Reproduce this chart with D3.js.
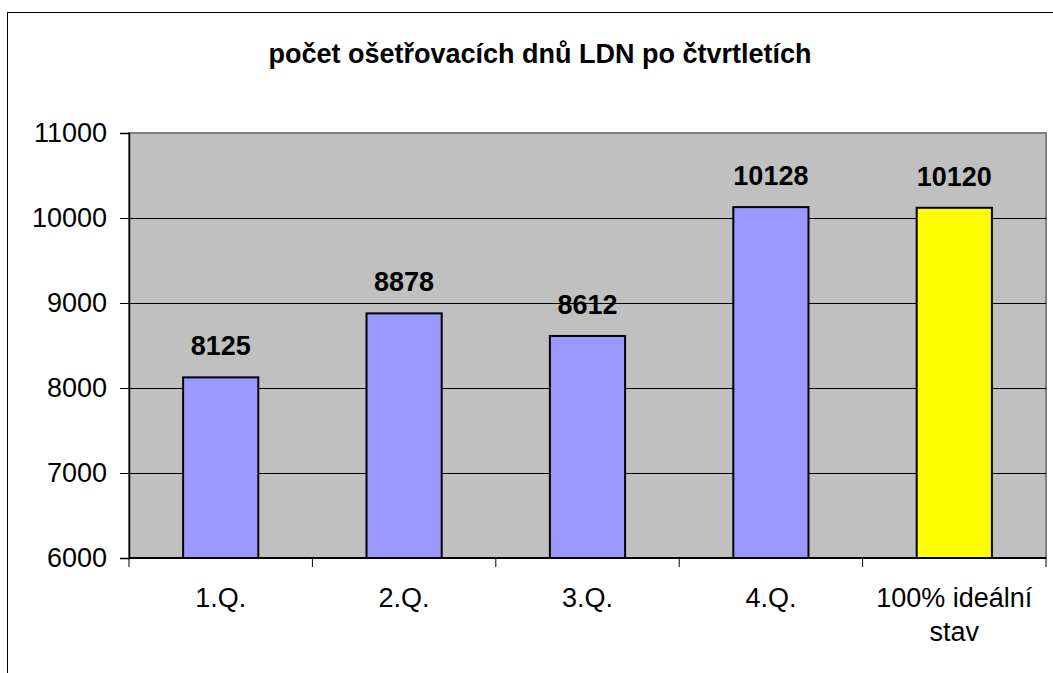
<!DOCTYPE html>
<html><head><meta charset="utf-8">
<script src="https://cdn.jsdelivr.net/npm/d3@7"></script>
<style>body{margin:0;background:#fff}svg{display:block}text{font-family:Arial,"Liberation Sans",sans-serif}</style>
</head><body><svg id="c" width="1053" height="673"></svg>
<script>
const categories = [["1.Q."],["2.Q."],["3.Q."],["4.Q."],["100% ideální","stav"]];
const values = [8125, 8878, 8612, 10128, 10120];
const barColors = ["#9999ff","#9999ff","#9999ff","#9999ff","#ffff00"];
const yTicks = [6000,7000,8000,9000,10000,11000];
const title = "počet ošetřovacích dnů LDN po čtvrtletích";

const svg = d3.select("#c");
const L=129, R=1046, T=133, B=558;
const FS=27;
svg.append("rect").attr("x",7.5).attr("y",12.5).attr("width",1100).attr("height",700)
  .attr("fill","#fff").attr("stroke","#000").attr("stroke-width",1);
svg.append("text").attr("x",540).attr("y",63).attr("text-anchor","middle")
  .attr("font-size",FS).attr("font-weight","bold").text(title);

const x = d3.scaleBand().domain(d3.range(values.length)).range([L,R]).paddingInner(0).paddingOuter(0);
const y = d3.scaleLinear().domain([6000,11000]).range([B,T]);

svg.append("rect").attr("x",L).attr("y",T).attr("width",R-L).attr("height",B-T)
  .attr("fill","#c0c0c0").attr("stroke","#808080").attr("stroke-width",2);
svg.append("g").selectAll("line").data(yTicks.filter(d=>d>6000&&d<11000)).join("line")
  .attr("x1",L).attr("x2",R).attr("y1",d=>Math.round(y(d))+0.5).attr("y2",d=>Math.round(y(d))+0.5)
  .attr("stroke","#000").attr("stroke-width",1);

const bw = x.bandwidth()*0.41;
svg.append("g").selectAll("rect").data(values).join("rect")
  .attr("x",(d,i)=>x(i)+x.bandwidth()/2-bw/2).attr("y",d=>y(d)).attr("width",bw).attr("height",d=>B-y(d))
  .attr("fill",(d,i)=>barColors[i]).attr("stroke","#000").attr("stroke-width",2);
svg.append("g").selectAll("text").data(values).join("text")
  .attr("x",(d,i)=>x(i)+x.bandwidth()/2).attr("y",d=>y(d)-22).attr("text-anchor","middle")
  .attr("font-size",FS).attr("font-weight","bold").text(d=>d);

// axes
const yAxis = d3.axisLeft(y).tickValues(yTicks).tickSize(9).tickPadding(13).tickFormat(d=>d);
const gy = svg.append("g").attr("transform",`translate(${L},0)`).call(yAxis);
gy.attr("font-size",null).attr("font-family",null);
gy.select(".domain").attr("stroke","#000").attr("stroke-width",1.5);
gy.selectAll("text").attr("font-size",FS).attr("fill","#000");

const gx = svg.append("g").attr("transform",`translate(0,${B})`);
gx.append("line").attr("x1",L).attr("x2",R).attr("y1",0).attr("y2",0).attr("stroke","#000").attr("stroke-width",2);
gx.selectAll("line.t").data(d3.range(values.length+1)).join("line").attr("class","t")
  .attr("x1",i=>i<values.length?x(i):R).attr("x2",i=>i<values.length?x(i):R).attr("y1",0).attr("y2",9)
  .attr("stroke","#000").attr("stroke-width",1);
gx.selectAll("text").data(categories).join("text")
  .attr("x",(d,i)=>x(i)+x.bandwidth()/2).attr("y",49).attr("text-anchor","middle").attr("font-size",FS)
  .selectAll("tspan").data(d=>d).join("tspan")
  .attr("x",function(){return d3.select(this.parentNode).attr("x");}).attr("dy",(d,i)=>i?34:0).text(d=>d);
</script></body></html>
